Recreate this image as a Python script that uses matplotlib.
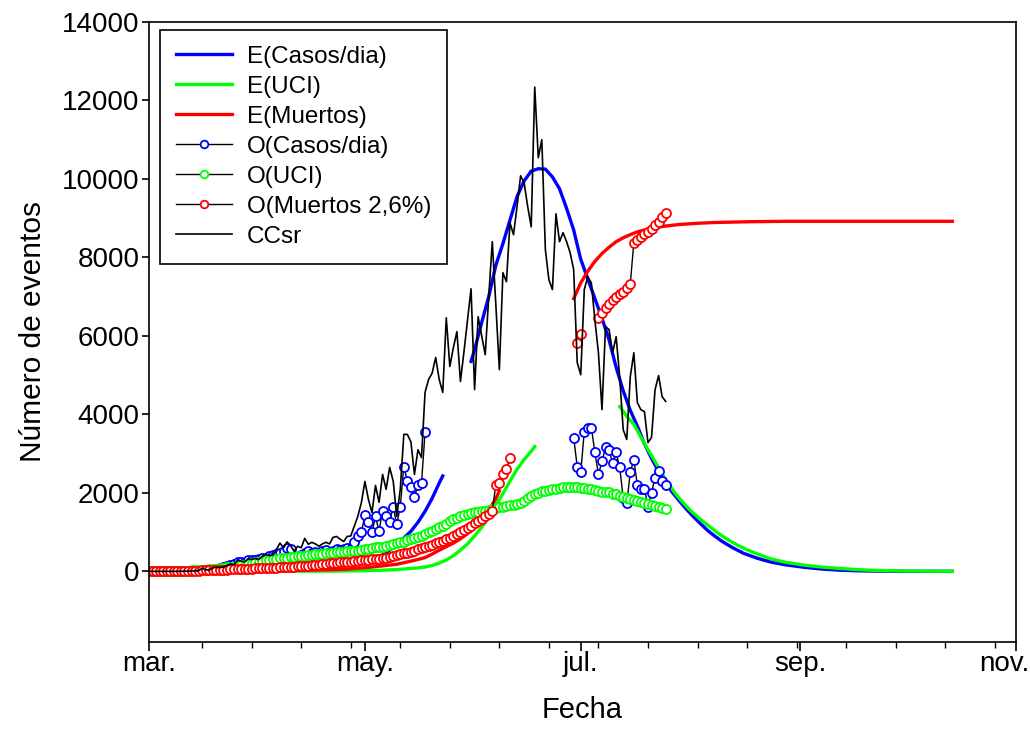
import numpy as np
import matplotlib
matplotlib.use("Agg")
import matplotlib.pyplot as plt
import matplotlib.dates as mdates
from matplotlib.ticker import FixedLocator, FuncFormatter
from matplotlib.transforms import ScaledTranslation

plt.rcParams["font.family"] = ["Liberation Sans", "DejaVu Sans"]

nan = np.nan
START = np.datetime64("2020-03-01")

# model curves: (day since 1 March, value); nan breaks a curve
e_casos_days = [0, 10, 20, 30, 40, 45, 50, 55, 60, 63, 66, 68, 70, 72, 74, 76, 78, 80, 82, 83,
                87,
                91, 92, 94, 96, 98, 100, 102, 104, 106, 108, 110, 112, 114, 116, 118, 120, 122,
                124, 126, 128, 130, 132, 134, 136, 138, 140, 142, 144, 146, 148, 150, 152, 154,
                156, 158, 160, 162, 165, 168, 172, 176, 180, 185, 190, 195, 200, 205, 210, 215,
                220, 227]
e_casos = [0, 5, 15, 30, 50, 70, 100, 150, 230, 300, 420, 540, 690, 850, 1020, 1250, 1530, 1860,
           2250, 2430,
           nan,
           5350, 5650, 6340, 7000, 7800, 8350, 8950, 9550, 9950, 10200, 10260, 10250, 10050,
           9750, 9250, 8700, 7950, 7450, 6950, 6450, 5900, 5200, 4600, 4100, 3700, 3250, 2880,
           2550, 2250, 2000, 1780, 1570, 1380, 1200, 1030, 890, 760, 600, 460, 330, 230, 165,
           105, 60, 30, 15, 7, 3, 1, 0, 0]

e_uci_days = [0, 50, 60, 65, 70, 75, 78, 80, 82, 84, 86, 88, 90, 92, 94, 96, 98, 100, 102, 104,
              106, 108, 109,
              120,
              133, 135, 137, 139, 141, 143, 145, 147, 149, 151, 153, 155, 157, 159, 161, 163,
              166, 169, 172, 176, 180, 185, 190, 195, 200, 205, 210, 215, 220, 227]
e_uci = [0, 5, 15, 25, 45, 80, 110, 150, 210, 290, 400, 540, 700, 900, 1120, 1380, 1680, 1980,
         2300, 2600, 2850, 3060, 3180,
         nan,
         4200, 3950, 3750, 3420, 3100, 2800, 2480, 2200, 1950, 1740, 1550, 1390, 1240, 1100,
         960, 840, 680, 550, 440, 310, 230, 160, 110, 75, 45, 25, 14, 8, 4, 1]

e_muertos_days = [0, 20, 40, 55, 62, 70, 75, 78, 80, 82, 84, 86, 88, 90, 92, 94, 96, 98, 99,
                  110,
                  120, 122, 124, 126, 128, 130, 132, 134, 136, 138, 140, 143, 146, 150, 155,
                  160, 170, 180, 200, 227]
e_muertos = [0, 5, 20, 50, 100, 180, 280, 350, 440, 540, 630, 720, 830, 960, 1120, 1320, 1560,
             1850, 2050,
             nan,
             6950, 7350, 7650, 7900, 8100, 8260, 8400, 8500, 8580, 8650, 8700, 8760, 8800,
             8840, 8870, 8890, 8910, 8920, 8920, 8920]

# observed daily series
o_casos_first = 20
o_casos = [80, 100, 130, 160, 180, 250, 250, 230, 280, 300,
           290, 320, 350, 340, 380, 420, 450, 480, 520, 600,
           560, 280, 300, 420, 460, 510, 480, 500, 450, 520,
           540, 500, 520, 560, 540, 560, 600, 560, 760, 890,
           990, 1430, 1250, 990, 1400, 1020, 1550, 1400, 1250, 1650,
           1200, 1650, 2670, 2300, 2150, 1900, 2200, 2250, 3540] + [nan] * 41 + [
           3410, 2670, 2520, 3560, 3650, 3660, 3030, 2470, 2800, 3160,
           3080, 2770, 3030, 2650, 1880, 1730, 2520, 2850, 2190, 2110,
           2110, 1650, 2000, 2390, 2550, 2290, 2210]

o_uci_first = 0
o_uci = [0, 0, 0, 0, 0, 5, 5, 10, 10, 15,
         20, 20, 25, 30, 35, 40, 45, 50, 60, 70,
         80, 90, 100, 110, 120, 130, 150, 170, 190, 210,
         230, 250, 265, 280, 295, 310, 320, 330, 340, 350,
         360, 370, 380, 390, 400, 410, 420, 430, 440, 450,
         460, 470, 480, 490, 500, 505, 510, 515, 520, 530,
         540, 560, 580, 600, 610, 620, 630, 650, 670, 690,
         710, 740, 760, 790, 820, 850, 880, 910, 950, 990,
         1030, 1080, 1120, 1160, 1200, 1290, 1330, 1370, 1410, 1440,
         1460, 1490, 1500, 1510, 1530, 1550, 1570, 1600, 1620, 1640,
         1650, 1660, 1680, 1700, 1720, 1750, 1800, 1860, 1910, 1960,
         2000, 2040, 2060, 2080, 2090, 2110, 2130, 2150, 2160, 2150,
         2140, 2140, 2130, 2120, 2110, 2090, 2070, 2050, 2030, 2020,
         2010, 1980, 1960, 1930, 1900, 1880, 1850, 1820, 1790, 1760,
         1740, 1710, 1690, 1660, 1640, 1620, 1600]

o_muertos_first = 0
o_muertos = [0, 0, 0, 0, 5, 5, 5, 10, 10, 10,
             15, 15, 15, 20, 20, 25, 25, 30, 30, 35,
             40, 40, 45, 50, 50, 55, 60, 60, 65, 70,
             75, 75, 80, 85, 90, 90, 95, 100, 105, 110,
             115, 120, 125, 130, 135, 140, 150, 160, 170, 180,
             190, 200, 210, 220, 230, 240, 245, 250, 260, 270,
             280, 290, 300, 305, 310, 320, 335, 350, 370, 390,
             410, 430, 455, 480, 505, 530, 560, 590, 620, 650,
             680, 715, 750, 785, 820, 860, 900, 950, 1000, 1050,
             1100, 1160, 1230, 1290, 1340, 1400, 1450, 1530, 2210, 2260,
             2470, 2600, 2900] + [nan] * 18 + [
             5830, 6060, nan, nan, nan, nan, 6460, 6590, 6720, 6820,
             6920, 7000, 7070, 7130, 7230, 7330, 8370, 8450, 8530, 8600,
             8650, 8730, 8830, 8910, 9030, 9140]

ccsr_first = 0
ccsr = [0, 0, 0, 0, 0, 0, 0, 0, 0, 0,
        5, 5, 10, 10, 15, 80, 40, 30, 90, 100,
        100, 110, 150, 190, 170, 280, 260, 240, 320, 300,
        330, 300, 380, 430, 400, 420, 560, 720, 600, 750,
        660, 510, 640, 600, 840, 690, 740, 700, 640, 700,
        740, 700, 865, 890, 820, 760, 890, 900, 1150, 1400,
        1750, 2290, 1830, 1500, 2190, 1760, 2470, 2090, 2650, 2300,
        1400, 2090, 3490, 3490, 3300, 2470, 3100, 2900, 4560, 4890,
        5050, 5450, 4890, 4560, 6460, 5220, 5700, 6110, 4840, 5600,
        6400, 7200, 4630, 6490, 6000, 5520, 7000, 8400, 6800, 5140,
        7610, 7380, 8880, 8580, 9300, 10080, 9900, 9300, 8780, 12340,
        10540, 11000, 8200, 7430, 7180, 9110, 8400, 8630, 8400, 8120,
        7690, 5320, 5010, 7180, 7510, 7350, 6400, 5570, 4120, 6240,
        6160, 5570, 5980, 4960, 3610, 3360, 4960, 5570, 4300, 4120,
        4070, 3280, 3410, 4630, 4990, 4450, 4330]

month_labels = {3: "mar.", 5: "may.", 7: "jul.", 9: "sep.", 11: "nov."}


def to_dates(days):
    return START + np.array(days, dtype="timedelta64[D]")


def daily(first, values):
    return to_dates(np.arange(first, first + len(values)))


fig = plt.figure(figsize=(10.3, 7.42), dpi=100)
ax = fig.add_axes([0.1447, 0.1348, 0.8417, 0.8356])

ax.plot(to_dates(e_casos_days), e_casos, color="#0000ff", lw=2.4, label="E(Casos/dia)")
ax.plot(to_dates(e_uci_days), e_uci, color="#00ff00", lw=2.4, label="E(UCI)")
ax.plot(to_dates(e_muertos_days), e_muertos, color="#ff0000", lw=2.4, label="E(Muertos)")

obs = [
    (o_casos_first, o_casos, "#0000ff", "O(Casos/dia)"),
    (o_uci_first, o_uci, "#00ff00", "O(UCI)"),
    (o_muertos_first, o_muertos, "#ff0000", "O(Muertos 2,6%)"),
]
for first, vals, col, lab in obs:
    ax.plot(daily(first, vals), vals, color="black", lw=1.0, marker="o", ms=6.5,
            mfc="white", mec=col, mew=1.3, label=lab)

ax.plot(daily(ccsr_first, ccsr), ccsr, color="black", lw=1.2, label="CCsr")

ax.set_xlim(to_dates([0, 245]))
ax.set_ylim(-1800, 14000)
ax.set_yticks(range(0, 14001, 2000))
ax.xaxis.set_major_locator(mdates.MonthLocator(bymonth=[3, 5, 7, 9, 11]))
ax.xaxis.set_major_formatter(FuncFormatter(lambda v, p: month_labels.get(mdates.num2date(v).month, "")))
ax.xaxis.set_minor_locator(FixedLocator(mdates.date2num(to_dates(range(15, 245, 14)))))

ax.tick_params(which="major", direction="out", labelsize=20)
ax.tick_params(axis="x", which="major", length=6.5, width=1.2, pad=0)
ax.tick_params(axis="y", which="major", length=5, width=1.2, pad=2)
ax.tick_params(which="minor", direction="out", length=4.3, width=1.0)
ax.tick_params(top=False, right=False)
for s in ax.spines.values():
    s.set_linewidth(1.2)

ax.set_xlabel("Fecha", fontsize=21, labelpad=14)
ax.set_ylabel("Número de eventos", fontsize=21.5, labelpad=11)

leg = ax.legend(loc="upper left", bbox_to_anchor=(11 / 867, 1 - 8 / 620), borderaxespad=0,
                fontsize=17.5, frameon=True, fancybox=False, edgecolor="black", framealpha=1,
                handlelength=2.3, handletextpad=0.62, labelspacing=0.33, borderpad=0.65,
                numpoints=1)
leg.get_frame().set_linewidth(1.2)
for h in leg.legend_handles[3:6]:
    h.set_markersize(5.5)

# keep the last month label inside the figure
fig.canvas.draw()
n_major = len(ax.xaxis.get_majorticklocs())
nov = ax.xaxis.get_major_ticks()[n_major - 1].label1
nov.set_horizontalalignment("right")
nov.set_transform(nov.get_transform() + ScaledTranslation(0.13, 0, fig.dpi_scale_trans))

fig.savefig("out.png", dpi=100)
